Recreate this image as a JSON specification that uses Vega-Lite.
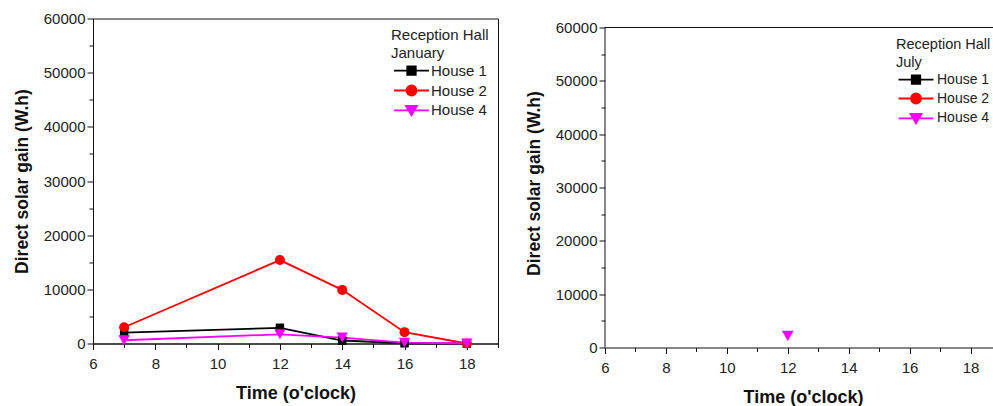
{
  "$schema": "https://vega.github.io/schema/vega-lite/v6.json",
  "padding": {"left": 12, "top": 10.5, "right": 0, "bottom": 0},
  "spacing": 26,
  "config": {
    "font": "Liberation Sans",
    "view": {"stroke": "#111", "strokeWidth": 1},
    "axis": {
      "labelFont": "Liberation Sans", "labelFontSize": 15, "labelColor": "#222",
      "titleFont": "Liberation Sans", "titleFontSize": 17.5, "titleFontWeight": "bold", "titleColor": "#111",
      "domainColor": "#111", "tickColor": "#111", "grid": false, "labelFlush": false, "labelOverlap": false
    },
    "legend": {
      "titleFont": "Liberation Sans", "titleFontSize": 15, "titleFontWeight": "normal", "titleColor": "#222",
      "labelFont": "Liberation Sans", "labelFontSize": 15, "labelColor": "#222",
      "titleLineHeight": 18.4, "titlePadding": 2.3, "rowPadding": 1.8, "padding": 0,
      "symbolSize": 100, "symbolOffset": 13, "labelOffset": 12, "symbolStrokeWidth": 1.8
    }
  },
  "data": {"values": [
    {"month": "January", "series": "House 1", "time": 7, "gain": 2000},
    {"month": "January", "series": "House 1", "time": 12, "gain": 2900},
    {"month": "January", "series": "House 1", "time": 14, "gain": 550},
    {"month": "January", "series": "House 1", "time": 16, "gain": 50},
    {"month": "January", "series": "House 1", "time": 18, "gain": 0},
    {"month": "January", "series": "House 2", "time": 7, "gain": 3000},
    {"month": "January", "series": "House 2", "time": 12, "gain": 15400},
    {"month": "January", "series": "House 2", "time": 14, "gain": 9900},
    {"month": "January", "series": "House 2", "time": 16, "gain": 2100},
    {"month": "January", "series": "House 2", "time": 18, "gain": 0},
    {"month": "January", "series": "House 4", "time": 7, "gain": 600},
    {"month": "January", "series": "House 4", "time": 12, "gain": 1700},
    {"month": "January", "series": "House 4", "time": 14, "gain": 1100},
    {"month": "January", "series": "House 4", "time": 16, "gain": 150},
    {"month": "January", "series": "House 4", "time": 18, "gain": 0},
    {"month": "July", "series": "House 4", "time": 12, "gain": 2200}
  ]},
  "hconcat": [
    {
      "width": 405, "height": 325,
      "transform": [{"filter": "datum.month === 'January'"}],
      "encoding": {
        "x": {"field": "time", "type": "quantitative", "scale": {"domain": [6, 19], "nice": false},
          "axis": {"title": "Time (o'clock)", "titleFontSize": 18, "values": [6,7,8,9,10,11,12,13,14,15,16,17,18,19],
            "labelExpr": "datum.value % 2 === 0 ? datum.label : ''",
            "tickSize": {"condition": {"test": "datum.value % 2 === 0", "value": 6}, "value": 4},
            "labelPadding": 7, "titlePadding": 13}},
        "y": {"field": "gain", "type": "quantitative", "scale": {"domain": [0, 60000], "nice": false},
          "axis": {"title": "Direct solar gain (W.h)", "format": "d",
            "values": [0,5000,10000,15000,20000,25000,30000,35000,40000,45000,50000,55000,60000],
            "labelExpr": "datum.value % 10000 === 0 ? datum.label : ''",
            "tickSize": {"condition": {"test": "datum.value % 10000 === 0", "value": 6}, "value": 4},
            "labelPadding": 2, "titlePadding": 12}},
        "color": {"field": "series", "type": "nominal",
          "scale": {"domain": ["House 1", "House 2", "House 4"], "range": ["#000000", "#ff0000", "#ff00ff"]},
          "legend": {"orient": "none", "legendX": 298, "legendY": 9, "title": ["Reception Hall", "January"],
            "encoding": {"symbols": {
              "shape": {"condition": [{"test": "datum.value === 'House 1'", "value": "M-3.5,0H3.5M-0.85,-0.85H0.85V0.85H-0.85Z"}, {"test": "datum.value === 'House 2'", "value": "M-3.5,0H3.5M1,0A1,1 0 1,1 -1,0A1,1 0 1,1 1,0Z"}], "value": "M-3.5,0H3.5M-1.1,-0.9H1.1L0,1Z"},
              "fill": {"condition": [{"test": "datum.value === 'House 1'", "value": "#000000"}, {"test": "datum.value === 'House 2'", "value": "#ff0000"}], "value": "#ff00ff"},
              "stroke": {"condition": [{"test": "datum.value === 'House 1'", "value": "#000000"}, {"test": "datum.value === 'House 2'", "value": "#ff0000"}], "value": "#ff00ff"},
              "strokeWidth": {"value": 1.8}, "opacity": {"value": 1}}}}}
      },
      "layer": [
        {"mark": {"type": "line", "strokeWidth": 1.8}},
        {"transform": [{"filter": "datum.series === 'House 1'"}],
          "mark": {"type": "point", "shape": "square", "size": 72, "filled": true, "opacity": 1}},
        {"transform": [{"filter": "datum.series === 'House 2'"}],
          "mark": {"type": "point", "shape": "circle", "size": 100, "filled": true, "opacity": 1}},
        {"transform": [{"filter": "datum.series === 'House 4'"}],
          "mark": {"type": "point", "shape": "triangle-down", "size": 130, "filled": true, "opacity": 1}}
      ]
    },
    {
      "width": 396, "height": 329,
      "view": {"stroke": null},
      "transform": [{"filter": "datum.month === 'July'"}],
      "encoding": {
        "x": {"field": "time", "type": "quantitative", "scale": {"domain": [6, 19], "nice": false},
          "axis": {"title": "Time (o'clock)", "titleFontSize": 18, "values": [6,7,8,9,10,11,12,13,14,15,16,17,18,19],
            "labelExpr": "datum.value % 2 === 0 ? datum.label : ''",
            "tickSize": {"condition": {"test": "datum.value % 2 === 0", "value": 6}, "value": 4},
            "labelPadding": 7, "titlePadding": 13}},
        "y": {"field": "gain", "type": "quantitative", "scale": {"domain": [0, 61687], "nice": false},
          "axis": {"title": "Direct solar gain (W.h)", "format": "d", "domain": false,
            "values": [0,5000,10000,15000,20000,25000,30000,35000,40000,45000,50000,55000,60000],
            "labelExpr": "datum.value % 10000 === 0 ? datum.label : ''",
            "tickSize": {"condition": {"test": "datum.value % 10000 === 0", "value": 6}, "value": 4},
            "labelPadding": 2, "titlePadding": 12}}
      },
      "layer": [
        {"mark": {"type": "rule", "color": "#111", "strokeWidth": 1},
          "encoding": {"x": {"datum": 6}, "y": {"datum": 0}, "y2": {"datum": 60000}}},
        {"mark": {"type": "rule", "color": "#111", "strokeWidth": 1},
          "encoding": {"x": {"datum": 6}, "x2": {"datum": 19}, "y": {"datum": 60000}}},
        {"mark": {"type": "point", "shape": "triangle-down", "size": 140, "filled": true, "opacity": 1},
          "encoding": {
            "color": {"field": "series", "type": "nominal",
              "scale": {"domain": ["House 1", "House 2", "House 4"], "range": ["#000000", "#ff0000", "#ff00ff"]},
              "legend": {"orient": "none", "legendX": 291, "legendY": 19, "title": ["Reception Hall", "July"],
                "titleFontSize": 14.5, "labelFontSize": 14, "labelOffset": 14,
                "encoding": {"symbols": {
                  "shape": {"condition": [{"test": "datum.value === 'House 1'", "value": "M-3.5,0H3.5M-0.85,-0.85H0.85V0.85H-0.85Z"}, {"test": "datum.value === 'House 2'", "value": "M-3.5,0H3.5M1,0A1,1 0 1,1 -1,0A1,1 0 1,1 1,0Z"}], "value": "M-3.5,0H3.5M-1.1,-0.9H1.1L0,1Z"},
                  "fill": {"condition": [{"test": "datum.value === 'House 1'", "value": "#000000"}, {"test": "datum.value === 'House 2'", "value": "#ff0000"}], "value": "#ff00ff"},
                  "stroke": {"condition": [{"test": "datum.value === 'House 1'", "value": "#000000"}, {"test": "datum.value === 'House 2'", "value": "#ff0000"}], "value": "#ff00ff"},
                  "strokeWidth": {"value": 1.8}, "opacity": {"value": 1}}}}}
          }}
      ]
    }
  ],
  "resolve": {"scale": {"color": "independent"}, "legend": {"color": "independent"}}
}
